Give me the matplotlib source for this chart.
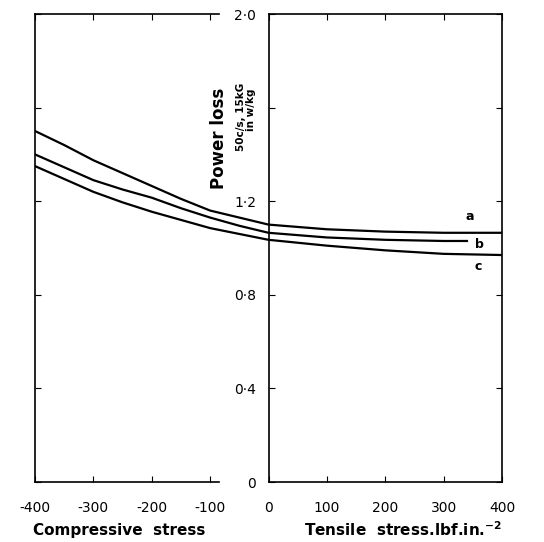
import matplotlib
matplotlib.use("Agg")
import matplotlib.pyplot as plt

# stress, lbf/in^2 (negative = compressive)
stress = [-400, -350, -300, -250, -200, -150, -100, -50, 0, 100, 200, 300, 400]
loss_a = [1.50, 1.44, 1.375, 1.32, 1.265, 1.21, 1.16, 1.13, 1.10, 1.08, 1.07, 1.065, 1.065]
loss_c = [1.35, 1.295, 1.24, 1.195, 1.155, 1.12, 1.085, 1.06, 1.035, 1.01, 0.99, 0.975, 0.97]
# curve b stops short of the right edge
stress_b = [-400, -350, -300, -250, -200, -150, -100, -50, 0, 100, 200, 300, 340]
loss_b = [1.40, 1.345, 1.29, 1.25, 1.215, 1.17, 1.13, 1.095, 1.065, 1.045, 1.035, 1.03, 1.03]
curve_names = ["a", "b", "c"]

xticks = [-400, -300, -200, -100, 0, 100, 200, 300, 400]
xticklabels = ["-400", "-300", "-200", "-100", "0", "100", "200", "300", "400"]
yticks = [0, 0.4, 0.8, 1.2, 1.6, 2.0]
# the 1.6 label is taken by the axis title in the original
yticklabels = ["0", "0·4", "0·8", "1·2", "", "2·0"]

plt.rcParams.update({"font.family": "DejaVu Sans", "font.size": 10})

L, B, W, H = 35 / 544, 1 - 482 / 542, 467 / 544, 468 / 542
fig = plt.figure(figsize=(5.44, 5.42), dpi=100)
ax = fig.add_axes([L, B, W, H])
ax.set_xlim(-400, 400)
ax.set_ylim(0, 2.0)

LW = 1.6
ax.plot(stress, loss_a, color="black", lw=LW)
ax.plot(stress_b, loss_b, color="black", lw=LW)
ax.plot(stress, loss_c, color="black", lw=LW)
for name, yv, xv in zip(curve_names, [loss_a[-1] + 0.07, loss_b[-1] - 0.015, loss_c[-1] - 0.05],
                        [345, 362, 360]):
    ax.text(xv, yv, name, fontsize=9, fontweight="bold", ha="center", va="center")

# left box: open on its right side
for s in ("top", "bottom", "right"):
    ax.spines[s].set_visible(False)
ax.spines["left"].set_linewidth(1.2)
gap_end = -85
for yy in (0, 2.0):
    ax.plot([-400, gap_end], [yy, yy], color="black", lw=1.2, clip_on=False)

ax.set_xticks(xticks, xticklabels)
ax.tick_params(axis="x", direction="in", top=True, bottom=True, length=4,
               pad=14, labelsize=10)
ax.set_yticks(yticks)
ax.tick_params(axis="y", direction="in", left=True, right=False, length=4,
               labelleft=False)

# right box (tensile side), its left edge is the zero-stress axis with the labels
axr = fig.add_axes([L + W / 2, B, W / 2, H], facecolor="none")
axr.set_xlim(0, 400)
axr.set_ylim(0, 2.0)
for s in axr.spines.values():
    s.set_linewidth(1.2)
axr.set_xticks([])
axr.set_yticks(yticks, yticklabels)
axr.tick_params(axis="y", direction="in", left=True, right=True, length=4,
                pad=9, labelsize=10)

ax.text(-85, 1.47, "Power loss", rotation=90, fontsize=12, fontweight="bold",
        ha="center", va="center")
ax.text(-47, 1.56, "50c/s, 15kG", rotation=90, fontsize=7.5, fontweight="bold",
        ha="center", va="center")
ax.text(-30, 1.59, "in w/kg", rotation=90, fontsize=7.5, fontweight="bold",
        ha="center", va="center")

fig.text(119 / 544, 11 / 542, "Compressive  stress", fontsize=11, fontweight="bold",
         ha="center", va="center")
fig.text(403 / 544, 12 / 542, r"Tensile  stress.lbf.in.$^{\mathbf{-2}}$", fontsize=11,
         fontweight="bold", ha="center", va="center")

fig.savefig("out.png", dpi=100)
